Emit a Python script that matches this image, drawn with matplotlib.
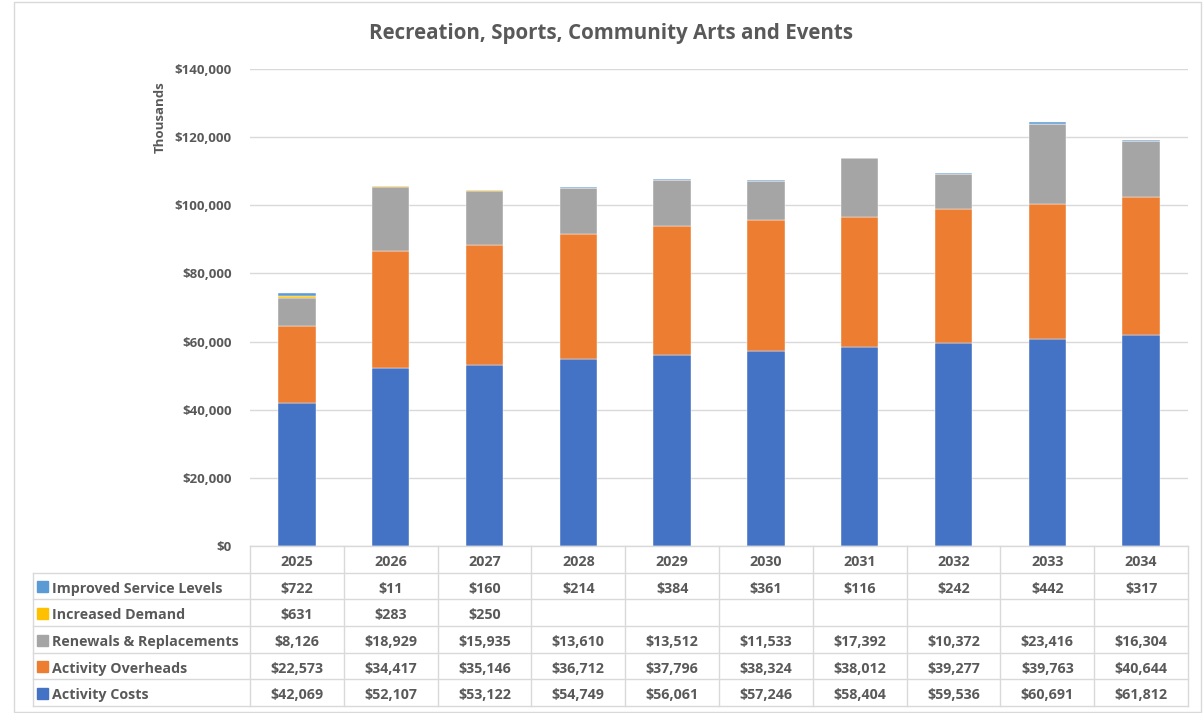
import matplotlib.pyplot as plt
import numpy as np
from matplotlib.patches import Rectangle
from matplotlib.ticker import FuncFormatter

plt.rcParams['font.family'] = ['Open Sans', 'DejaVu Sans']

years = ['2025', '2026', '2027', '2028', '2029', '2030', '2031', '2032', '2033', '2034']
activity_costs = [42069, 52107, 53122, 54749, 56061, 57246, 58404, 59536, 60691, 61812]
activity_overheads = [22573, 34417, 35146, 36712, 37796, 38324, 38012, 39277, 39763, 40644]
renewals = [8126, 18929, 15935, 13610, 13512, 11533, 17392, 10372, 23416, 16304]
increased_demand = [631, 283, 250, None, None, None, None, None, None, None]
improved_service = [722, 11, 160, 214, 384, 361, 116, 242, 442, 317]

series = [
    ('Activity Costs', activity_costs, '#4472C4'),
    ('Activity Overheads', activity_overheads, '#ED7D31'),
    ('Renewals & Replacements', renewals, '#A5A5A5'),
    ('Increased Demand', increased_demand, '#FFC000'),
    ('Improved Service Levels', improved_service, '#5B9BD5'),
]

W, H = 1203, 713
txt = '#595959'
grid = '#d9d9d9'

fig = plt.figure(figsize=(W / 100, H / 100), dpi=100)

# chart area border
fig.patches.append(Rectangle((14 / W, 0.002), (W - 16) / W, 0.995, transform=fig.transFigure,
                             fill=False, edgecolor=grid, linewidth=1))

x0, x1 = 250, 1188
ytop, ybot = 69, 546
ax = fig.add_axes([x0 / W, 1 - ybot / H, (x1 - x0) / W, (ybot - ytop) / H])

x = np.arange(len(years))
bottom = np.zeros(len(years))
for name, vals, col in series:
    v = np.array([0 if a is None else a for a in vals], dtype=float)
    ax.bar(x, v, 0.40, bottom=bottom, color=col, edgecolor='white', linewidth=0.3, zorder=3)
    bottom += v

ax.set_xlim(-0.5, len(years) - 0.5)
ax.set_ylim(0, 140000)
ax.set_yticks(np.arange(0, 140001, 20000))
ax.yaxis.set_major_formatter(FuncFormatter(lambda v, p: f'${v:,.0f}'))
ax.tick_params(axis='y', length=0, labelsize=9.5, labelcolor=txt, pad=13)
for lab in ax.get_yticklabels():
    lab.set_fontweight('bold')
ax.set_xticks([])
ax.grid(axis='y', color=grid, linewidth=1, zorder=0)
for s in ax.spines.values():
    s.set_visible(False)

fig.text(160 / W, 1 - 117 / H, 'Thousands', rotation=90, ha='center', va='center',
         fontsize=9.5, fontweight='bold', color=txt)
fig.text(611 / W, 1 - 34 / H, 'Recreation, Sports, Community Arts and Events', ha='center',
         va='center', fontsize=14.8, fontweight='bold', color=txt)

# data table below the chart
tb_top, tb_bot = 546, 706
tax = fig.add_axes([x0 / W, 1 - tb_bot / H, (x1 - x0) / W, (tb_bot - tb_top) / H])
tax.set_xlim(-0.5, len(years) - 0.5)
tax.set_ylim(6, 0)
tax.axis('off')
colw = (x1 - x0) / len(years)
xl = -0.5 - (x0 - 33) / colw

lw = 1
for r in range(7):
    left = -0.5 if r == 0 else xl
    tax.plot([left, len(years) - 0.5], [r, r], color=grid, lw=lw, clip_on=False)
for c in range(len(years) + 1):
    tax.plot([c - 0.5, c - 0.5], [0, 6], color=grid, lw=lw, clip_on=False)
tax.plot([xl, xl], [1, 6], color=grid, lw=lw, clip_on=False)

fs = 10.3
dy = 0.1
for i, yr in enumerate(years):
    tax.text(i, 0.5 + dy, yr, ha='center', va='center', fontsize=fs, fontweight='bold', color=txt)

for r, (name, vals, col) in enumerate(reversed(series)):
    yc = r + 1.5 + dy
    sq = 11 / colw
    tax.add_patch(Rectangle((xl + 4 / colw, yc - 0.28), sq, 0.42, color=col, clip_on=False))
    tax.text(xl + 19 / colw, yc, name, ha='left', va='center', fontsize=fs,
             fontweight='bold', color=txt, clip_on=False)
    for i, v in enumerate(vals):
        if v is not None:
            tax.text(i, yc, f'${v:,}', ha='center', va='center', fontsize=fs,
                     fontweight='bold', color=txt)

fig.savefig('out.png', dpi=100)
